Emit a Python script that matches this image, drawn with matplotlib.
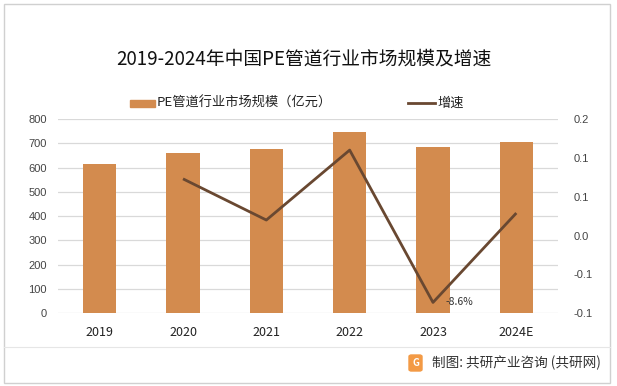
import numpy as np
import matplotlib
matplotlib.use("Agg")
from matplotlib import pyplot as plt
from matplotlib.patches import Rectangle, FancyBboxPatch
from matplotlib.lines import Line2D
from matplotlib.ticker import FuncFormatter, MultipleLocator

plt.rcParams['font.family'] = ['Noto Sans CJK SC', 'DejaVu Sans']

# 数据
years = ['2019', '2020', '2021', '2022', '2023', '2024E']
scale = [614, 659, 676, 746, 684, 704]           # 亿元
growth_years = ['2020', '2021', '2022', '2023', '2024E']
growth = [0.073, 0.020, 0.110, -0.086, 0.029]
note_text = '-8.6%'

barColor = '#D38B4E'
lineColor = '#694831'
gridColor = '#D9D9D9'

W, H = 617, 386
fig = plt.figure(figsize=(W / 100, H / 100), dpi=100)

def fx(px):
    return px / W

def fy(py):
    return 1 - py / H

ax = fig.add_axes([fx(58), fy(313.3), fx(558) - fx(58), fy(119) - fy(313.3)])
x = np.arange(len(years))
ax.bar(x, scale, width=0.4, color=barColor, zorder=2)
ax.set_xlim(-0.5, len(years) - 0.5)
ax.set_ylim(0, 800)
ax.yaxis.set_major_locator(MultipleLocator(100))
ax.grid(axis='y', color=gridColor, linewidth=0.9, zorder=0)
ax.set_axisbelow(True)
for s in ax.spines.values():
    s.set_visible(False)
ax.set_xticks(x)
ax.set_xticklabels(years)
ax.tick_params(axis='x', length=0, pad=9, labelsize=9, colors='#222222')
ax.tick_params(axis='y', length=0, pad=8, labelsize=8, colors='#444444')
for lb in ax.get_yticklabels():
    lb.set_family(['Liberation Sans', 'DejaVu Sans'])

ax2 = ax.twinx()
gx = [years.index(g) for g in growth_years]
ax2.plot(gx, growth, color=lineColor, linewidth=2.0, zorder=3, solid_capstyle='butt')
ax2.set_ylim(-0.10, 0.15)
ax2.yaxis.set_major_locator(MultipleLocator(0.05))

# 右轴标签按一位小数四舍五入显示
def fmtR(v, pos):
    k = int(round(v * 20))
    r = np.sign(k) * np.floor(abs(k) / 2 + 0.5) / 10
    return f"{r:.1f}"

ax2.yaxis.set_major_formatter(FuncFormatter(fmtR))
ax2.tick_params(axis='y', length=0, pad=11, labelsize=8, colors='#444444')
for lb in ax2.get_yticklabels():
    lb.set_family(['Liberation Sans', 'DejaVu Sans'])
for s in ax2.spines.values():
    s.set_visible(False)

i23 = growth_years.index('2023')
ax2.annotate(note_text, (gx[i23], growth[i23]), xytext=(9, 0), textcoords='offset points',
             fontsize=7.5, color='#333333', va='center', ha='left')

# 标题
fig.text(fx(304), fy(59), '2019-2024年中国PE管道行业市场规模及增速', ha='center', va='center',
         fontsize=13.5, color='#111111')

# 图例
fig.add_artist(Rectangle((fx(130), fy(106.5)), fx(155) - fx(130), fy(99.5) - fy(106.5),
                         transform=fig.transFigure, color=barColor))
fig.text(fx(157), fy(103), 'PE管道行业市场规模（亿元）', fontsize=9.5, va='center', color='#222222')
fig.add_artist(Line2D([fx(408), fx(435)], [fy(103), fy(103)], transform=fig.transFigure,
                      color=lineColor, linewidth=2.0))
fig.text(fx(437), fy(103), '增速', fontsize=9.5, va='center', color='#222222')

# 边框与底部
fig.add_artist(Rectangle((fx(4), fy(383)), fx(610) - fx(4), fy(4) - fy(383),
                         transform=fig.transFigure, fill=False, edgecolor='#D0D0D0', linewidth=1))
fig.add_artist(Line2D([fx(4), fx(610)], [fy(347), fy(347)], transform=fig.transFigure,
                      color='#E6E6E6', linewidth=0.8))
fig.add_artist(FancyBboxPatch((fx(409), fy(371)), fx(422) - fx(409), fy(355) - fy(371),
                              boxstyle='round,pad=0,rounding_size=0.004',
                              transform=fig.transFigure, color='#F39A45'))
fig.text(fx(415.5), fy(363), 'G', ha='center', va='center', fontsize=7, color='white',
         fontweight='bold')
fig.text(fx(432), fy(363), '制图: 共研产业咨询 (共研网)', fontsize=9.8, va='center', color='#333333')

fig.savefig('out.png', dpi=100)
